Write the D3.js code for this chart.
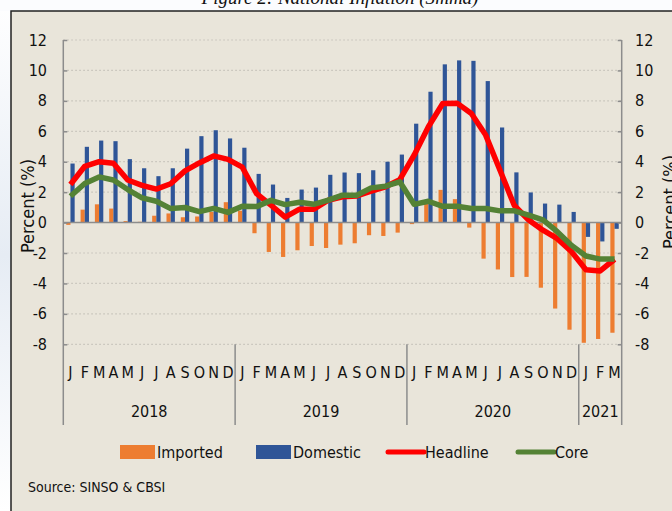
<!DOCTYPE html>
<head>
<meta charset="utf-8" />
<script src="https://d3js.org/d3.v7.min.js"></script>
<style>
  body { margin: 0; background: #fff; }
  text { font-family: "Liberation Sans Narrow", "DejaVu Sans Condensed", sans-serif; fill: #111; }
</style>
</head>
<body>
<script>
// monthly data, Jan 2018 - Mar 2021
var years = ["2018", "2019", "2020", "2021"];
var yearMonths = [12, 12, 12, 3];
var monthLetters = ["J", "F", "M", "A", "M", "J", "J", "A", "S", "O", "N", "D"];

var imported = [
  -0.15, 0.85, 1.2, 0.92, 0.1, 0.05, 0.45, 0.6, 0.35, 0.4, 0.7, 1.34,
  0.78, -0.7, -1.93, -2.26, -1.82, -1.54, -1.67, -1.45, -1.36, -0.83, -0.88, -0.66,
  -0.1, 1.29, 2.15, 1.54, -0.33, -2.37, -3.08, -3.58, -3.57, -4.28, -5.65, -7.04,
  -7.9, -7.65, -7.24
];
var domestic = [
  3.88, 4.98, 5.39, 5.35, 4.17, 3.57, 3.05, 3.57, 4.86, 5.68, 6.07, 5.53,
  4.92, 3.2, 2.5, 1.62, 2.17, 2.3, 3.14, 3.29, 3.25, 3.44, 4.0, 4.47,
  6.5, 8.6, 10.4, 10.66, 10.63, 9.3, 6.25, 3.3, 1.98, 1.25, 1.18, 0.7,
  -0.94, -1.24, -0.41
];
var headline = [
  2.5, 3.7, 4.0, 3.9, 2.8, 2.45, 2.2, 2.55, 3.4, 3.92, 4.38, 4.15,
  3.64, 1.9, 1.14, 0.36, 0.88, 0.88, 1.47, 1.69, 1.75, 2.06, 2.35, 2.82,
  4.43, 6.3, 7.83, 7.85, 7.17, 5.75, 3.44, 1.12, 0.17, -0.5, -1.06, -1.92,
  -3.1, -3.18, -2.41
];
var core = [
  1.73, 2.57, 3.0, 2.8, 2.17, 1.62, 1.4, 0.92, 0.99, 0.72, 0.93, 0.67,
  1.08, 1.05, 1.46, 1.18, 1.34, 1.2, 1.47, 1.8, 1.8, 2.28, 2.39, 2.68,
  1.2, 1.4, 1.07, 1.07, 0.92, 0.92, 0.77, 0.77, 0.49, 0.18, -0.6, -1.5,
  -2.2, -2.4, -2.4
];
var yTicks = [12, 10, 8, 6, 4, 2, 0, -2, -4, -6, -8];
var seriesNames = ["Imported", "Domestic", "Headline", "Core"];
var colors = { Imported: "#ED7D31", Domestic: "#2F5597", Headline: "#FF0000", Core: "#548235" };

var width = 672, height = 511;

// category list built from years
var months = [];
years.forEach(function (yr, k) {
  for (var m = 0; m < yearMonths[k]; m++) months.push({ year: yr, letter: monthLetters[m] });
});
var idx = d3.range(months.length);

var svg = d3.select("body").append("svg")
  .attr("width", width)
  .attr("height", height);

// page behind the figure
var defs = svg.append("defs");
var grad = defs.append("linearGradient").attr("id", "page").attr("x1", 0).attr("y1", 0).attr("x2", 0).attr("y2", 1);
grad.append("stop").attr("offset", "0%").attr("stop-color", "#ffffff");
grad.append("stop").attr("offset", "50%").attr("stop-color", "#e6ecf4");
grad.append("stop").attr("offset", "100%").attr("stop-color", "#ffffff");
svg.append("rect").attr("width", width).attr("height", height).attr("fill", "url(#page)");
svg.append("rect").attr("x", 0).attr("y", 0).attr("width", width).attr("height", 11).attr("fill", "#fbfcfe");

// title sits half above the top edge, like the scanned figure
svg.append("text")
  .attr("x", 340).attr("y", 4)
  .attr("text-anchor", "middle")
  .style("font-family", "'Liberation Serif', serif")
  .style("font-style", "italic")
  .style("font-size", "19px")
  .text("Figure 2: National Inflation (3mma)");

svg.append("rect")
  .attr("x", 11).attr("y", 11)
  .attr("width", width + 10).attr("height", height + 10)
  .attr("fill", "#E9E5DA")
  .attr("stroke", "#222").attr("stroke-width", 1.5);

var x = d3.scaleBand().domain(idx).range([63.3, 621.7]).padding(0);
var xSub = d3.scaleBand().domain(["Imported", "Domestic"])
  .range([x.bandwidth() / 2 - 4.2, x.bandwidth() / 2 + 4.2]).padding(0);
var y = d3.scaleLinear().domain([-8, 12]).range([344.3, 40]);

// gridlines
svg.append("g").selectAll("line")
  .data(yTicks.filter(function (d) { return d !== 0; }))
  .join("line")
  .attr("x1", 63.3).attr("x2", 621.7)
  .attr("y1", function (d) { return y(d); }).attr("y2", function (d) { return y(d); })
  .attr("stroke", "#c4c1b8").attr("stroke-width", 1.2)
  .attr("stroke-dasharray", "1.5,2.5");

// bars
var bars = svg.append("g");
bars.selectAll("rect.imp")
  .data(idx).join("rect").attr("class", "imp")
  .attr("x", function (i) { return x(i) + xSub("Imported"); })
  .attr("width", xSub.bandwidth())
  .attr("y", function (i) { return y(Math.max(0, imported[i])); })
  .attr("height", function (i) { return Math.abs(y(imported[i]) - y(0)); })
  .attr("fill", colors.Imported);
bars.selectAll("rect.dom")
  .data(idx).join("rect").attr("class", "dom")
  .attr("x", function (i) { return x(i) + xSub("Domestic"); })
  .attr("width", xSub.bandwidth())
  .attr("y", function (i) { return y(Math.max(0, domestic[i])); })
  .attr("height", function (i) { return Math.abs(y(domestic[i]) - y(0)); })
  .attr("fill", colors.Domestic);

// zero line
svg.append("line")
  .attr("x1", 63.3).attr("x2", 621.7)
  .attr("y1", y(0)).attr("y2", y(0))
  .attr("stroke", "#8c8c8c").attr("stroke-width", 1.5);

// lines
var line = function (vals) {
  return d3.line()
    .x(function (i) { return x(i) + x.bandwidth() / 2; })
    .y(function (i) { return y(vals[i]); })(idx);
};
svg.append("path").attr("d", line(headline))
  .attr("fill", "none").attr("stroke", colors.Headline)
  .attr("stroke-width", 5.5).attr("stroke-linejoin", "round");
svg.append("path").attr("d", line(core))
  .attr("fill", "none").attr("stroke", colors.Core)
  .attr("stroke-width", 5.5).attr("stroke-linejoin", "round");

// y axes
var axisColor = "#8c8c8c";
var left = svg.append("g").attr("transform", "translate(63.3,0)")
  .call(d3.axisRight(y).tickValues(yTicks).tickSize(4).tickFormat(""));
var right = svg.append("g").attr("transform", "translate(621.7,0)")
  .call(d3.axisLeft(y).tickValues(yTicks).tickSize(4).tickFormat(""));
[left, right].forEach(function (g) {
  g.select(".domain").remove();
  g.selectAll("line").attr("stroke", axisColor).attr("stroke-width", 1.5);
});

svg.append("g").selectAll("text")
  .data(yTicks).join("text")
  .attr("x", 47).attr("y", function (d) { return y(d); })
  .attr("dy", "0.35em").attr("text-anchor", "end")
  .style("font-size", "16px")
  .text(function (d) { return d; });
svg.append("g").selectAll("text")
  .data(yTicks).join("text")
  .attr("x", 635).attr("y", function (d) { return y(d); })
  .attr("dy", "0.35em").attr("text-anchor", "start")
  .style("font-size", "16px")
  .text(function (d) { return d; });

svg.append("text")
  .attr("transform", "translate(34,206) rotate(-90)")
  .attr("text-anchor", "middle")
  .style("font-size", "18px")
  .text("Percent (%)");
// right title runs off the page edge in the source figure
svg.append("text")
  .attr("transform", "translate(676,202) rotate(-90)")
  .attr("text-anchor", "middle")
  .style("font-size", "18px")
  .text("Percent (%)");

// vertical axis lines and year dividers
var bounds = [0];
yearMonths.reduce(function (acc, n) { bounds.push(acc + n); return acc + n; }, 0);
svg.append("g").selectAll("line")
  .data(bounds).join("line")
  .attr("x1", function (b) { return b < months.length ? x(b) : x.range()[1]; })
  .attr("x2", function (b) { return b < months.length ? x(b) : x.range()[1]; })
  .attr("y1", function (b) { return (b === 0 || b === months.length) ? 40 : y(-8); })
  .attr("y2", 425)
  .attr("stroke", axisColor).attr("stroke-width", 1.5);

// month letters
svg.append("g").selectAll("text")
  .data(idx).join("text")
  .attr("x", function (i) { return x(i) + x.bandwidth() / 2; })
  .attr("y", 378)
  .attr("text-anchor", "middle")
  .style("font-size", "16px")
  .text(function (i) { return months[i].letter; });

// year labels
svg.append("g").selectAll("text")
  .data(years).join("text")
  .attr("x", function (yr, k) {
    var a = bounds[k], b = bounds[k + 1];
    return (x(a) + (b < months.length ? x(b) : x.range()[1])) / 2;
  })
  .attr("y", 417)
  .attr("text-anchor", "middle")
  .style("font-size", "16px")
  .text(function (d) { return d; });

// legend
var legendX = [120, 256, 388, 518];
var leg = svg.append("g").selectAll("g")
  .data(seriesNames).join("g")
  .attr("transform", function (d, k) { return "translate(" + legendX[k] + ",452)"; });
leg.each(function (d, k) {
  var g = d3.select(this);
  if (k < 2) {
    g.append("rect").attr("x", 0).attr("y", -7).attr("width", 35).attr("height", 14).attr("fill", colors[d]);
  } else {
    g.append("line").attr("x1", 0).attr("x2", 36).attr("y1", 0).attr("y2", 0)
      .attr("stroke", colors[d]).attr("stroke-width", 5).attr("stroke-linecap", "round");
  }
  g.append("text").attr("x", 37).attr("y", 0).attr("dy", "0.35em")
    .style("font-size", "16px").text(d);
});

svg.append("text")
  .attr("x", 28).attr("y", 492)
  .style("font-size", "14px")
  .text("Source: SINSO & CBSI");
</script>
</body>
